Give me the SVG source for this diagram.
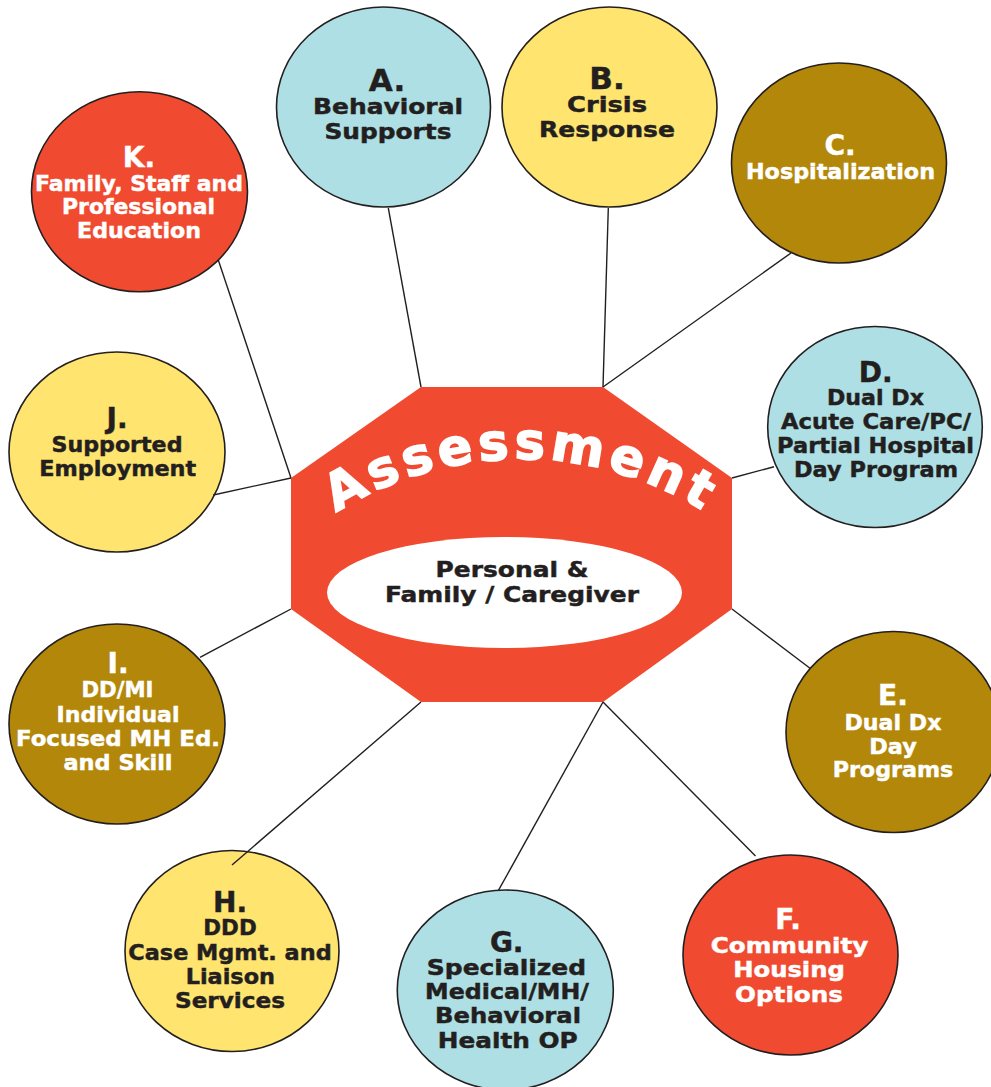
<svg xmlns="http://www.w3.org/2000/svg" width="991" height="1087" viewBox="0 0 991 1087">
<defs>
<style>
.node{stroke:#231F20;stroke-width:1.6}
.blue{fill:#ADDFE5}
.yellow{fill:#FFE46F}
.gold{fill:#B3870A}
.red{fill:#F04B30}
text{font-family:"DejaVu Sans","Liberation Sans",sans-serif;font-weight:bold;text-anchor:middle}
.dk{fill:#231F20;stroke:#231F20;stroke-width:0.45}
.wt{fill:#FFFFFF;stroke:#FFFFFF;stroke-width:0.45}
.big{font-size:31px}
.hd{font-size:28px}
.ln{font-size:21px}
.conn line{stroke:#231F20;stroke-width:1.4}
</style>
<path id="arc" d="M299,540 A345,345 0 0,1 743,540"/>
</defs>
<rect width="991" height="1087" fill="#FFFFFF"/>

<g id="center">
<polygon points="421,387 603,387 732,478 732,609 603,702 421,702 291,609 291,478" fill="#F04B30"/>
<ellipse cx="504.5" cy="592.5" rx="177.5" ry="55.5" fill="#FFFFFF"/>
<text font-size="51px" fill="#FFFFFF" stroke="#FFFFFF" stroke-width="1.6" letter-spacing="4.6"><textPath href="#arc" startOffset="50%" dx="2.3">Assessment</textPath></text>
<text class="dk" font-size="21.5px" x="512" y="577" textLength="153" lengthAdjust="spacingAndGlyphs">Personal &amp;</text>
<text class="dk" font-size="21.5px" x="512" y="602" textLength="254" lengthAdjust="spacingAndGlyphs">Family / Caregiver</text>
</g>

<g id="nodeA">
<ellipse class="node blue" cx="383.5" cy="107" rx="107" ry="100"/>
<text class="dk big" x="387" y="90.7">A.</text>
<text class="dk ln" x="388" y="114" textLength="150" lengthAdjust="spacingAndGlyphs">Behavioral</text>
<text class="dk ln" x="388" y="138.5" textLength="127" lengthAdjust="spacingAndGlyphs">Supports</text>
</g>

<g id="nodeB">
<ellipse class="node yellow" cx="609.5" cy="107" rx="107.5" ry="100"/>
<text class="dk big" x="607" y="89">B.</text>
<text class="dk ln" x="607" y="112" textLength="80" lengthAdjust="spacingAndGlyphs">Crisis</text>
<text class="dk ln" x="607" y="137" textLength="136" lengthAdjust="spacingAndGlyphs">Response</text>
</g>

<g id="nodeC">
<ellipse class="node gold" cx="839" cy="163" rx="107.5" ry="100"/>
<text class="wt hd" x="840" y="155">C.</text>
<text class="wt ln" x="840.5" y="179" textLength="189" lengthAdjust="spacingAndGlyphs">Hospitalization</text>
</g>

<g id="nodeD">
<ellipse class="node blue" cx="875" cy="427" rx="107.3" ry="100.5"/>
<text class="dk hd" x="875.7" y="381.7">D.</text>
<text class="dk ln" x="875.5" y="405" textLength="97" lengthAdjust="spacingAndGlyphs">Dual Dx</text>
<text class="dk ln" x="876" y="429" textLength="190" lengthAdjust="spacingAndGlyphs">Acute Care/PC/</text>
<text class="dk ln" x="875.5" y="452.7" textLength="197" lengthAdjust="spacingAndGlyphs">Partial Hospital</text>
<text class="dk ln" x="876" y="476.5" textLength="164" lengthAdjust="spacingAndGlyphs">Day Program</text>
</g>

<g id="nodeE">
<ellipse class="node gold" cx="893.5" cy="732" rx="107.5" ry="100.5"/>
<text class="wt hd" x="893" y="705">E.</text>
<text class="wt ln" x="893" y="730" textLength="97" lengthAdjust="spacingAndGlyphs">Dual Dx</text>
<text class="wt ln" x="893" y="753.5" textLength="47.5" lengthAdjust="spacingAndGlyphs">Day</text>
<text class="wt ln" x="893" y="777" textLength="120.7" lengthAdjust="spacingAndGlyphs">Programs</text>
</g>

<g id="nodeF">
<ellipse class="node red" cx="790.5" cy="955" rx="107.5" ry="100"/>
<text class="wt hd" x="788" y="929.3">F.</text>
<text class="wt ln" x="789.5" y="953.3" textLength="157.7" lengthAdjust="spacingAndGlyphs">Community</text>
<text class="wt ln" x="789" y="977.3" textLength="111.7" lengthAdjust="spacingAndGlyphs">Housing</text>
<text class="wt ln" x="789" y="1001.7" textLength="108" lengthAdjust="spacingAndGlyphs">Options</text>
</g>

<g id="nodeG">
<ellipse class="node blue" cx="505.3" cy="990" rx="108" ry="100"/>
<text class="dk hd" x="506.7" y="951.7">G.</text>
<text class="dk ln" x="506.5" y="975" textLength="159.3" lengthAdjust="spacingAndGlyphs">Specialized</text>
<text class="dk ln" x="507" y="999.3" textLength="164" lengthAdjust="spacingAndGlyphs">Medical/MH/</text>
<text class="dk ln" x="508" y="1023.3" textLength="146" lengthAdjust="spacingAndGlyphs">Behavioral</text>
<text class="dk ln" x="507.7" y="1047.7" textLength="140" lengthAdjust="spacingAndGlyphs">Health OP</text>
</g>

<g id="nodeH">
<ellipse class="node yellow" cx="232" cy="951" rx="107" ry="100.5"/>
<text class="dk hd" x="230" y="911.7">H.</text>
<text class="dk ln" x="230" y="935" textLength="53.3" lengthAdjust="spacingAndGlyphs">DDD</text>
<text class="dk ln" x="230" y="960" textLength="203.3" lengthAdjust="spacingAndGlyphs">Case Mgmt. and</text>
<text class="dk ln" x="230.3" y="984" textLength="89.3" lengthAdjust="spacingAndGlyphs">Liaison</text>
<text class="dk ln" x="230" y="1008.3" textLength="110" lengthAdjust="spacingAndGlyphs">Services</text>
</g>

<g id="nodeI">
<ellipse class="node gold" cx="117" cy="724" rx="108" ry="100"/>
<text class="wt hd" x="118" y="672.7">I.</text>
<text class="wt ln" x="117.5" y="697" textLength="72" lengthAdjust="spacingAndGlyphs">DD/MI</text>
<text class="wt ln" x="118" y="721.7" textLength="123" lengthAdjust="spacingAndGlyphs">Individual</text>
<text class="wt ln" x="118" y="745.7" textLength="204" lengthAdjust="spacingAndGlyphs">Focused MH Ed.</text>
<text class="wt ln" x="118" y="770" textLength="109" lengthAdjust="spacingAndGlyphs">and Skill</text>
</g>

<g id="nodeJ">
<ellipse class="node yellow" cx="117" cy="452" rx="108" ry="100"/>
<text class="dk hd" x="117" y="428">J.</text>
<text class="dk ln" x="117" y="451.7" textLength="131" lengthAdjust="spacingAndGlyphs">Supported</text>
<text class="dk ln" x="117.7" y="475.5" textLength="157" lengthAdjust="spacingAndGlyphs">Employment</text>
</g>

<g id="nodeK">
<ellipse class="node red" cx="139.5" cy="191.7" rx="108" ry="100"/>
<text class="wt hd" x="139" y="166.7">K.</text>
<text class="wt ln" x="139" y="190.7" textLength="208" lengthAdjust="spacingAndGlyphs">Family, Staff and</text>
<text class="wt ln" x="138.5" y="214" textLength="153" lengthAdjust="spacingAndGlyphs">Professional</text>
<text class="wt ln" x="139" y="238" textLength="124" lengthAdjust="spacingAndGlyphs">Education</text>
</g>

<g id="connectors" class="conn">
<line x1="388.3" y1="208" x2="421" y2="387"/>
<line x1="608.3" y1="208" x2="603" y2="387"/>
<line x1="791" y1="253" x2="603" y2="387"/>
<line x1="774" y1="466.7" x2="732" y2="478"/>
<line x1="810" y1="668.3" x2="732" y2="609"/>
<line x1="755.5" y1="856" x2="603" y2="702"/>
<line x1="498.3" y1="890.7" x2="603" y2="702"/>
<line x1="232" y1="865" x2="421" y2="702"/>
<line x1="200" y1="657.3" x2="291" y2="609"/>
<line x1="213.3" y1="495" x2="291" y2="478"/>
<line x1="218.3" y1="260" x2="291" y2="478"/>
</g>
</svg>
